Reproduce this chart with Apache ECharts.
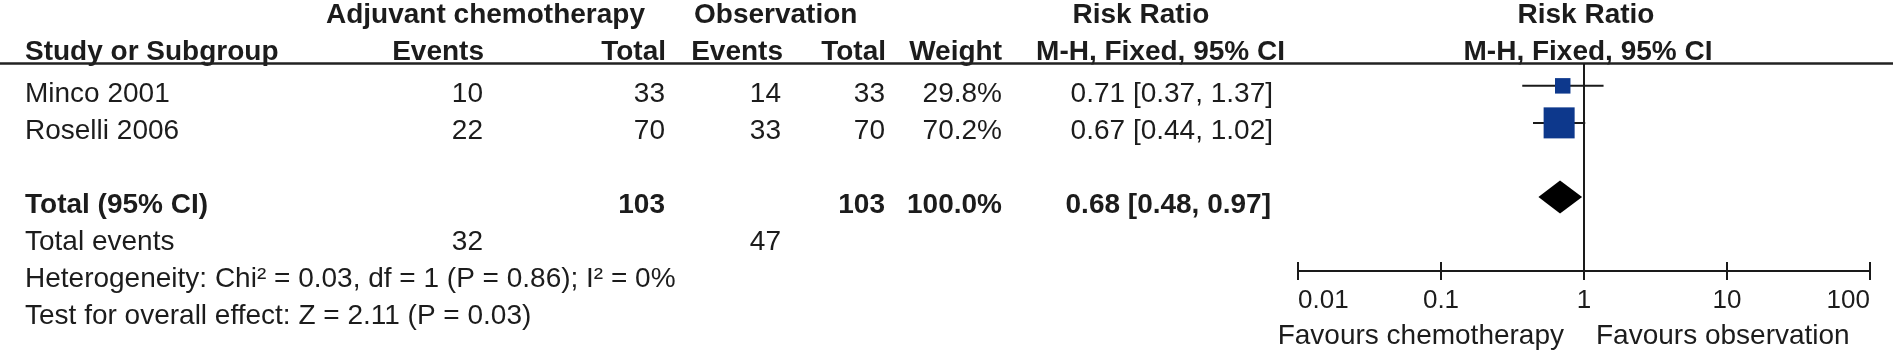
<!DOCTYPE html>
<html>
<head>
<meta charset="utf-8">
<script src="https://cdn.jsdelivr.net/npm/echarts@6/dist/echarts.min.js"></script>
<style>
  html, body { margin: 0; padding: 0; background: #fff; }
  #chart { width: 1893px; height: 352px; }
</style>
</head>
<body>
<div id="chart"></div>
<script>
// study rows
const studies = ["Minco 2001", "Roselli 2006"];
const chemoEvents = [10, 22];
const chemoTotal = [33, 70];
const obsEvents = [14, 33];
const obsTotal = [33, 70];
const weights = [29.8, 70.2];
const riskRatio = [0.71, 0.67];
const ciLow = [0.37, 0.44];
const ciHigh = [1.37, 1.02];

// pooled result
const pooledTotals = [103, 103];
const pooledWeight = 100.0;
const pooledRR = [0.68, 0.48, 0.97]; // estimate, low, high
const totalEvents = [32, 47];
const heterogeneity = "Heterogeneity: Chi\u00b2 = 0.03, df = 1 (P = 0.86); I\u00b2 = 0%";
const overallTest = "Test for overall effect: Z = 2.11 (P = 0.03)";

const tickValues = [0.01, 0.1, 1, 10, 100];
const tickLabels = ["0.01", "0.1", "1", "10", "100"];
const favours = ["Favours chemotherapy", "Favours observation"];

// look
const FONT = '"Liberation Sans", Arial, sans-serif';
const FS = 28;
const TEXT = "#1c1c1c";
const INK = "#1a1a1a";
const BLUE = "#0d388c";

// column anchors (px) and row placement
const COL = { study: 25, chemoEv: 483, chemoTot: 665, obsEv: 781, obsTot: 885, weight: 1002, ci: 1273 };
const HEAD1_ROW = -2.11, HEAD2_ROW = -1.13, RULE_ROW = -0.835;
const totalRow = studies.length + 1;

const fmt2 = (v) => v.toFixed(2);
const ciText = (e, l, h) => fmt2(e) + " [" + fmt2(l) + ", " + fmt2(h) + "]";

const cells = [];
function cell(x, row, text, align, bold) {
  cells.push({ x, row, text: String(text), align, bold: !!bold });
}

// headers
cell(326, HEAD1_ROW, "Adjuvant chemotherapy", "left", true);
cell(694, HEAD1_ROW, "Observation", "left", true);
cell(1141, HEAD1_ROW, "Risk Ratio", "center", true);
cell(1586, HEAD1_ROW, "Risk Ratio", "center", true);
cell(COL.study, HEAD2_ROW, "Study or Subgroup", "left", true);
cell(COL.chemoEv + 1, HEAD2_ROW, "Events", "right", true);
cell(COL.chemoTot + 1, HEAD2_ROW, "Total", "right", true);
cell(COL.obsEv + 2, HEAD2_ROW, "Events", "right", true);
cell(COL.obsTot + 1, HEAD2_ROW, "Total", "right", true);
cell(COL.weight, HEAD2_ROW, "Weight", "right", true);
cell(1285, HEAD2_ROW, "M-H, Fixed, 95% CI", "right", true);
cell(1588, HEAD2_ROW, "M-H, Fixed, 95% CI", "center", true);

// studies
studies.forEach((s, i) => {
  cell(COL.study, i, s, "left");
  cell(COL.chemoEv, i, chemoEvents[i], "right");
  cell(COL.chemoTot, i, chemoTotal[i], "right");
  cell(COL.obsEv, i, obsEvents[i], "right");
  cell(COL.obsTot, i, obsTotal[i], "right");
  cell(COL.weight, i, weights[i].toFixed(1) + "%", "right");
  cell(COL.ci, i, ciText(riskRatio[i], ciLow[i], ciHigh[i]), "right");
});

// total + footer
cell(COL.study, totalRow, "Total (95% CI)", "left", true);
cell(COL.chemoTot, totalRow, pooledTotals[0], "right", true);
cell(COL.obsTot, totalRow, pooledTotals[1], "right", true);
cell(COL.weight, totalRow, pooledWeight.toFixed(1) + "%", "right", true);
cell(COL.ci - 2, totalRow, ciText(pooledRR[0], pooledRR[1], pooledRR[2]), "right", true);
cell(COL.study, totalRow + 1, "Total events", "left");
cell(COL.chemoEv, totalRow + 1, totalEvents[0], "right");
cell(COL.obsEv, totalRow + 1, totalEvents[1], "right");
cell(COL.study, totalRow + 2, heterogeneity, "left");
cell(COL.study, totalRow + 3, overallTest, "left");

function renderCell(params, api) {
  const c = cells[params.dataIndex];
  const p = api.coord([c.x, c.row]);
  return {
    type: "text",
    x: p[0],
    y: p[1],
    style: {
      text: c.text,
      fill: TEXT,
      fontFamily: FONT,
      fontSize: FS,
      fontWeight: c.bold ? "bold" : "normal",
      align: c.align,
      textAlign: c.align,
      verticalAlign: "middle",
      textVerticalAlign: "middle",
    },
  };
}

function renderStudy(params, api) {
  const i = params.dataIndex;
  const lo = api.coord([ciLow[i], i]);
  const hi = api.coord([ciHigh[i], i]);
  const mid = api.coord([riskRatio[i], i]);
  const side = 4 + 0.385 * weights[i];
  return {
    type: "group",
    children: [
      { type: "line", shape: { x1: lo[0], y1: lo[1], x2: hi[0], y2: hi[1] }, style: { stroke: INK, lineWidth: 2 } },
      { type: "rect", shape: { x: mid[0] - side / 2, y: mid[1] - side / 2, width: side, height: side }, style: { fill: BLUE } },
    ],
  };
}

function renderDiamond(params, api) {
  const lo = api.coord([pooledRR[1], totalRow]);
  const hi = api.coord([pooledRR[2], totalRow]);
  const mid = api.coord([pooledRR[0], totalRow]);
  const h = 16.5;
  return {
    type: "polygon",
    shape: { points: [[lo[0], lo[1]], [mid[0], mid[1] - h], [hi[0], hi[1]], [mid[0], mid[1] + h]] },
    style: { fill: "#000" },
  };
}

function tickLabel(v) {
  let best = 0;
  tickValues.forEach((t, k) => {
    if (Math.abs(Math.log10(t) - Math.log10(v)) < Math.abs(Math.log10(tickValues[best]) - Math.log10(v))) best = k;
  });
  return tickLabels[best];
}

const forestAxis = {
  type: "log",
  logBase: 10,
  min: tickValues[0],
  max: tickValues[tickValues.length - 1],
  gridIndex: 1,
  position: "bottom",
  splitLine: { show: false },
  axisLine: { onZero: false, lineStyle: { color: INK, width: 2 } },
  nameLocation: "middle",
  nameGap: 51,
};

const chart = echarts.init(document.getElementById("chart"));
chart.setOption({
  animation: false,
  backgroundColor: "#fff",
  grid: [
    { left: 0, right: 0, top: 0, bottom: 0, outerBoundsMode: "none" },
    { left: 1298, right: 23, top: 64, bottom: 81, outerBoundsMode: "none" },
  ],
  xAxis: [
    { type: "value", min: 0, max: 1893, show: false, gridIndex: 0 },
    Object.assign({}, forestAxis, {
      name: favours[0],
      nameTextStyle: { fontFamily: FONT, fontSize: FS, color: TEXT, align: "right", padding: [0, 20, 0, 0] },
      axisTick: { show: true, length: 9, lineStyle: { color: INK, width: 2 } },
      axisLabel: {
        fontFamily: FONT, fontSize: 26, color: TEXT, margin: 17,
        alignMinLabel: "left", alignMaxLabel: "right",
        formatter: tickLabel,
      },
    }),
    Object.assign({}, forestAxis, {
      name: favours[1],
      nameTextStyle: { fontFamily: FONT, fontSize: FS, color: TEXT, align: "left", padding: [0, 0, 0, 12] },
      axisTick: { show: true, inside: true, length: 9, lineStyle: { color: INK, width: 2 } },
      axisLabel: { show: false },
    }),
  ],
  yAxis: [
    { type: "value", min: -2.53, max: 6.95, inverse: true, show: false, gridIndex: 0 },
    { type: "value", min: -0.59, max: 5, inverse: true, show: false, gridIndex: 1 },
  ],
  series: [
    {
      type: "custom",
      xAxisIndex: 0,
      yAxisIndex: 0,
      renderItem: renderCell,
      data: cells.map((c) => [c.x, c.row]),
      silent: true,
      markLine: {
        silent: true,
        symbol: ["none", "none"],
        label: { show: false },
        lineStyle: { color: "#222", width: 2.5, type: "solid" },
        data: [{ yAxis: RULE_ROW }],
      },
    },
    {
      type: "custom",
      xAxisIndex: 1,
      yAxisIndex: 1,
      renderItem: renderStudy,
      data: studies.map((s, i) => [riskRatio[i], i]),
      silent: true,
    },
    {
      type: "custom",
      xAxisIndex: 1,
      yAxisIndex: 1,
      renderItem: renderDiamond,
      data: [[pooledRR[0], totalRow]],
      silent: true,
      markLine: {
        silent: true,
        symbol: ["none", "none"],
        label: { show: false },
        lineStyle: { color: INK, width: 2, type: "solid" },
        data: [{ xAxis: 1 }],
      },
    },
  ],
});
</script>
</body>
</html>
